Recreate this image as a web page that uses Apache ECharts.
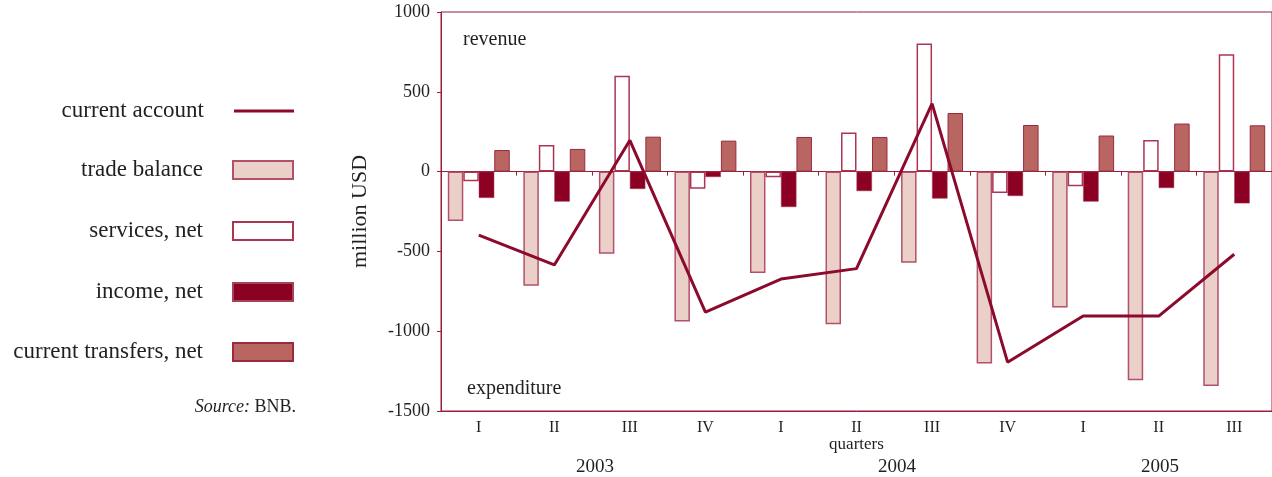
<!DOCTYPE html>
<html>
<head>
<meta charset="utf-8">
<script src="https://cdn.jsdelivr.net/npm/echarts@6/dist/echarts.min.js"></script>
<style>
  html, body { margin: 0; padding: 0; background: #fff; }
  #chart { width: 1272px; height: 477px; }
</style>
</head>
<body>
<div id="chart"></div>
<script>
// current account components by quarter, million USD
const quarters = ['I', 'II', 'III', 'IV', 'I', 'II', 'III', 'IV', 'I', 'II', 'III']
const currentAccount = [-398, -585, 196, -880, -673, -608, 426, -1194, -905, -905, -518]
const tradeBalance = [-310, -715, -514, -939, -636, -957, -571, -1202, -851, -1307, -1344]
const servicesNet = [-60, 167, 600, -107, -36, 245, 803, -134, -92, 198, 735]
const incomeNet = [-165, -188, -109, -34, -222, -122, -169, -153, -188, -103, -199]
const transfersNet = [135, 142, 219, 194, 217, 217, 367, 292, 226, 301, 290]
const yTicks = { min: -1500, max: 1000, interval: 500 }

const FONT = '"Liberation Serif", "DejaVu Serif", serif'
const TEXT = '#231f20'
const AXIS = '#9b1b3b'
const LINE = '#8c0a2c'

const chart = echarts.init(document.getElementById('chart'))

function legendItem(name, centerY, h) {
  return {
    data: [name],
    orient: 'vertical',
    align: 'right',
    padding: 0,
    right: 1272 - 294,
    top: centerY - 12,
    itemWidth: 60,
    itemHeight: h,
    selectedMode: false,
    icon: 'rect',
    textStyle: {
      fontFamily: FONT, fontSize: 23, color: TEXT,
      lineHeight: 24, padding: [0, 25, 0, 0]
    }
  }
}

chart.setOption({
  animation: false,
  textStyle: { fontFamily: FONT },
  grid: {
    left: 441, right: -3, top: 12, bottom: 66,
    show: true, borderColor: AXIS, borderWidth: 1
  },
  legend: [
    legendItem('current account', 111, 3),
    legendItem('trade balance', 170, 18),
    legendItem('services, net', 231, 18),
    legendItem('income, net', 292, 18),
    legendItem('current transfers, net', 352, 18)
  ],
  xAxis: [
    {
      // zero line with quarter separators
      type: 'category',
      data: quarters,
      position: 'top',
      axisLine: { onZero: true, lineStyle: { color: AXIS, width: 1 } },
      axisTick: { show: true, inside: true, length: 4, lineStyle: { color: AXIS } },
      axisLabel: { show: false },
      splitLine: { show: false }
    },
    {
      type: 'category',
      data: quarters,
      position: 'bottom',
      axisLine: { onZero: false, lineStyle: { color: AXIS, width: 1 } },
      axisTick: { show: false },
      axisLabel: { fontFamily: FONT, fontSize: 16, color: TEXT, margin: 9 },
      name: 'quarters',
      nameLocation: 'middle',
      nameGap: 25,
      nameMoveOverlap: false,
      nameTextStyle: { fontFamily: FONT, fontSize: 17, color: TEXT }
    }
  ],
  yAxis: {
    type: 'value',
    min: yTicks.min,
    max: yTicks.max,
    interval: yTicks.interval,
    axisLine: { show: true, lineStyle: { color: AXIS, width: 1 } },
    axisTick: { show: true, length: 4, lineStyle: { color: AXIS } },
    axisLabel: { fontFamily: FONT, fontSize: 18, color: TEXT, margin: 11, formatter: v => String(v) },
    splitLine: { show: false },
    name: 'million USD',
    nameLocation: 'middle',
    nameRotate: 90,
    nameGap: 70,
    nameTextStyle: { fontFamily: FONT, fontSize: 22, color: TEXT }
  },
  series: [
    {
      name: 'trade balance',
      type: 'bar',
      data: tradeBalance,
      barGap: '0%',
      barCategoryGap: '18%',
      itemStyle: { color: '#ebd0ca', borderColor: '#b4506a', borderWidth: 1.5 }
    },
    {
      name: 'services, net',
      type: 'bar',
      data: servicesNet,
      itemStyle: { color: '#ffffff', borderColor: '#ad3552', borderWidth: 1.5 }
    },
    {
      name: 'income, net',
      type: 'bar',
      data: incomeNet,
      itemStyle: { color: '#8c0024', borderColor: '#a8405a', borderWidth: 0.5 }
    },
    {
      name: 'current transfers, net',
      type: 'bar',
      data: transfersNet,
      itemStyle: { color: '#b96561', borderColor: '#9a2a40', borderWidth: 1 }
    },
    {
      name: 'current account',
      type: 'line',
      data: currentAccount,
      symbol: 'none',
      z: 5,
      lineStyle: { color: LINE, width: 3 },
      itemStyle: { color: LINE }
    }
  ],
  graphic: [
    { type: 'text', left: 463, top: 30, style: { text: 'revenue', font: '20px ' + FONT, fill: TEXT } },
    { type: 'text', left: 467, top: 379, style: { text: 'expenditure', font: '20px ' + FONT, fill: TEXT } },
    { type: 'text', left: 576, top: 458, style: { text: '2003', font: '19px ' + FONT, fill: TEXT } },
    { type: 'text', left: 878, top: 458, style: { text: '2004', font: '19px ' + FONT, fill: TEXT } },
    { type: 'text', left: 1141, top: 458, style: { text: '2005', font: '19px ' + FONT, fill: TEXT } },
    {
      type: 'text', right: 1272 - 296, top: 398,
      style: {
        text: '{i|Source:} BNB.',
        font: '18px ' + FONT,
        fill: TEXT,
        rich: { i: { fontStyle: 'italic', fontFamily: FONT, fontSize: 18, fill: TEXT } }
      }
    }
  ]
})
</script>
</body>
</html>
